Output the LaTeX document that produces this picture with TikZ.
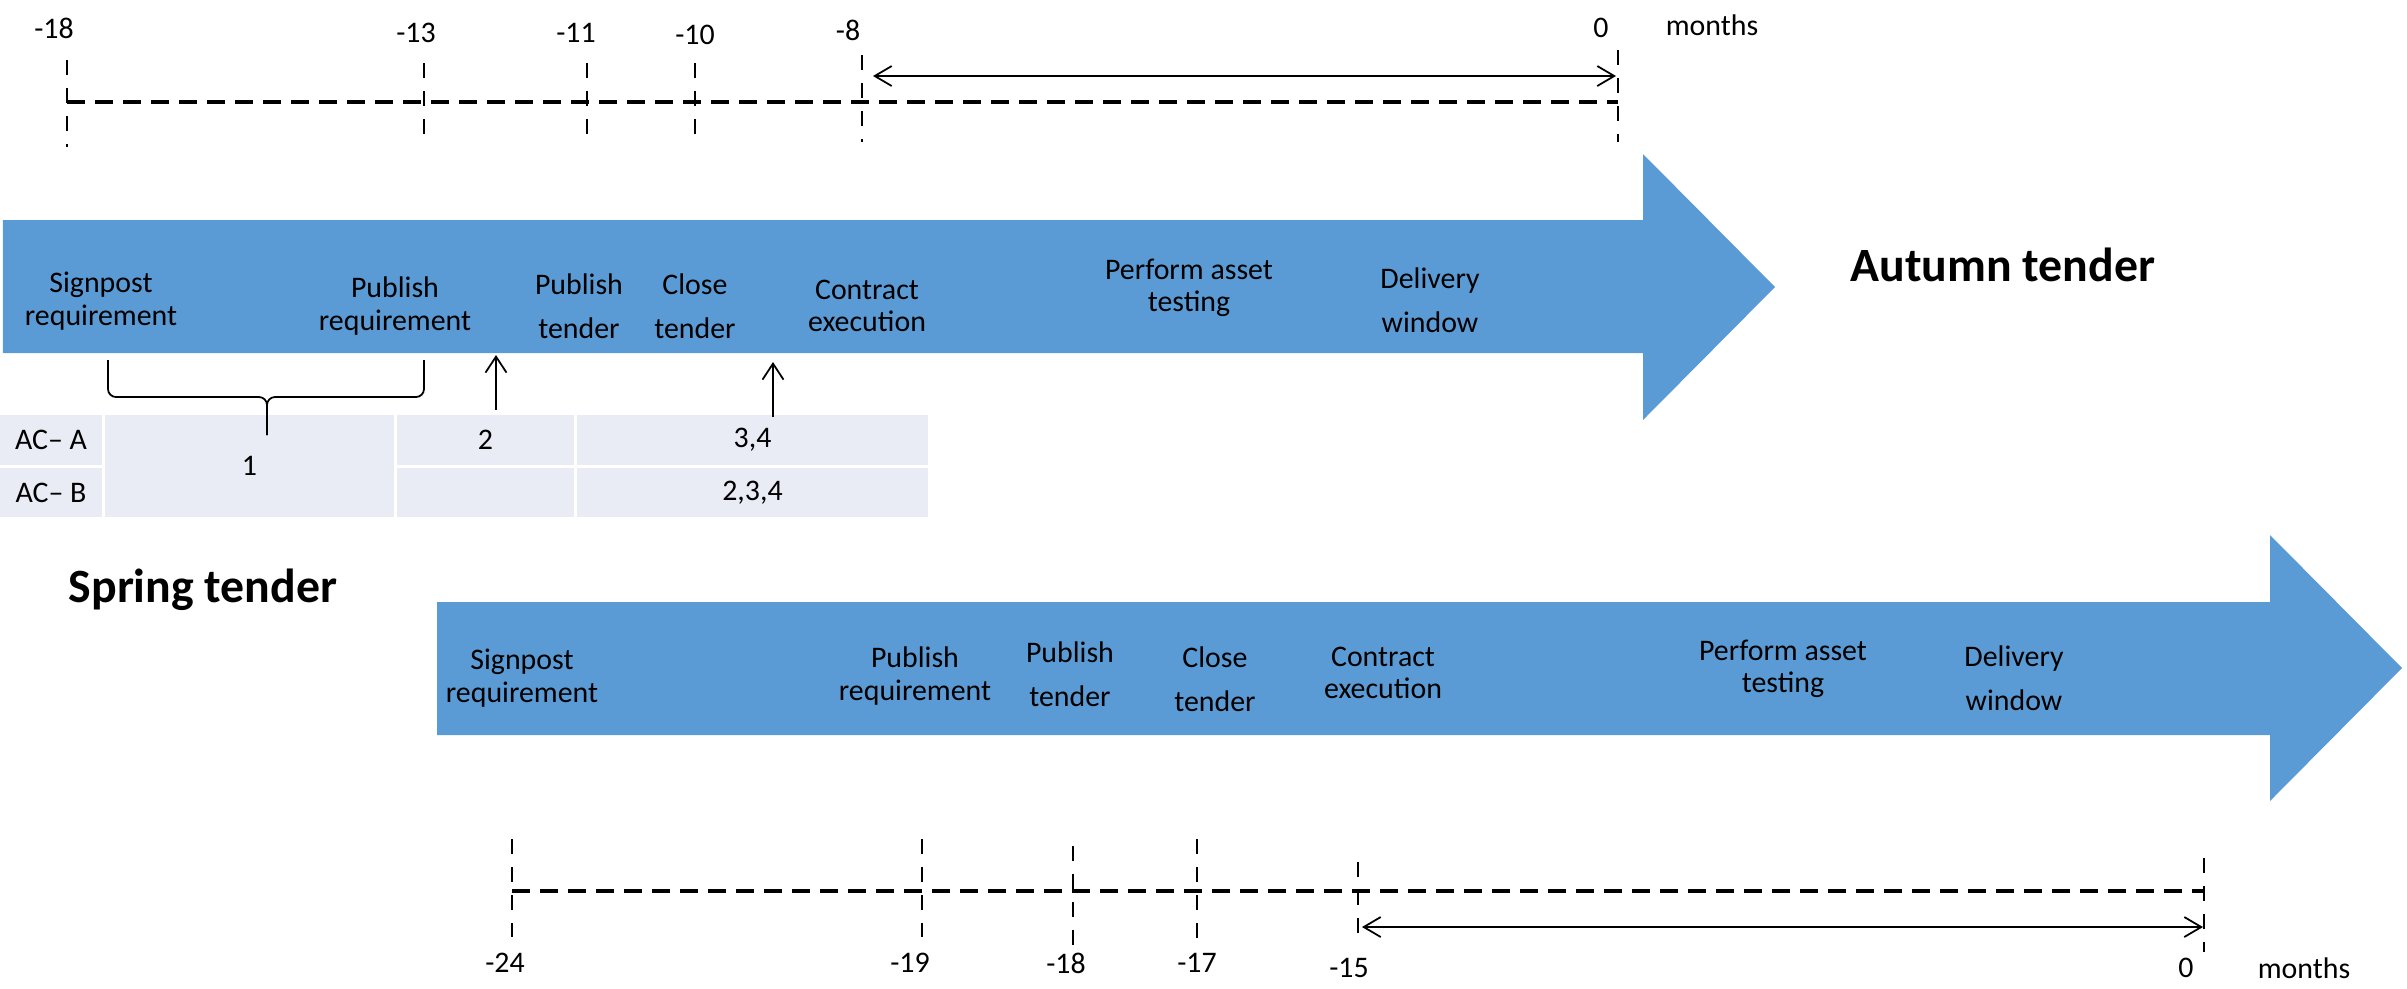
\documentclass[tikz,border=0pt]{standalone}
\usepackage{fontspec}
\setmainfont{Carlito}
\usetikzlibrary{arrows.meta}
\definecolor{arrowblue}{HTML}{5B9BD5}
\definecolor{cellfill}{HTML}{E9EBF5}

\begin{document}
\begin{tikzpicture}[x=0.1mm,y=-0.1mm,
  every node/.style={font=\fontsize{8.5}{9.2}\selectfont, inner sep=0pt},
  steplbl/.style={align=center},
  widelbl/.style={align=center, font=\fontsize{8.5}{12.6}\selectfont},
  tendertitle/.style={font=\fontsize{13.6}{16}\selectfont\bfseries},
  axisline/.style={line width=0.33mm, dash pattern=on 1.8mm off 1mm},
  tickline/.style={line width=0.25mm, dash pattern=on 1.5mm off 1.3mm},
  spanarrow/.style={line width=0.5pt, {Straight Barb[length=1.7mm,width=2mm]}-{Straight Barb[length=1.7mm,width=2mm]}},
  markarrow/.style={line width=0.5pt, -{Straight Barb[length=1.6mm,width=2.1mm]}},
  tblcell/.style={fill=cellfill, minimum height=5mm}
]
\useasboundingbox (0,0) rectangle (2407,988);

% autumn time line
\foreach \x/\lx/\m/\ya/\yb/\ly [count=\i] in {67/54/-18/60/147/28, 424/416/-13/63/137/33, 587/576/-11/63/135/33, 695/695/-10/63/135/35, 862/848/-8/55/142/30, 1618/1601/0/50/142/28}
{
\draw[tickline] (\x,\ya) -- (\x,\yb);
\node (au\i) at (\lx,\ly) {\m};
}
\draw[axisline] (67,102) -- (1618,102);
\node (auMonths) at (1712,25) {months};
\coordinate (auFrom) at (873,76);
\coordinate (auTo) at (1616,76);
\draw[spanarrow] (auFrom) -- (auTo);

% autumn arrow
\fill[arrowblue] (3,220) -- (1643,220) -- (1643,154) -- (1775,287) -- (1643,420) -- (1643,353) -- (3,353) -- cycle;
\node[steplbl] (auSign) at (101,301) {Signpost\\requirement};
\node[steplbl] (auPubReq) at (395,306) {Publish\\requirement};
\node[widelbl] (auPubTen) at (579,306) {Publish\\tender};
\node[widelbl] (auClose) at (695,306) {Close\\tender};
\node[steplbl] (auContract) at (867,306) {Contract\\execution};
\node[steplbl] (auPerform) at (1189,288) {Perform asset\\testing};
\node[widelbl] (auDelivery) at (1430,300) {Delivery\\window};
\node[tendertitle] (autumn) at (2003,265) {Autumn tender};

% table
\node[tblcell, minimum width=10.2mm] (acA) at (51,440) {AC– A};
\node[tblcell, minimum width=10.2mm, minimum height=4.9mm] (acB) at (51,492.5) {AC– B};
\node[tblcell, minimum width=28.9mm, minimum height=10.2mm] (cOne) at (249.5,466) {1};
\node[tblcell, minimum width=17.7mm] (cTwoA) at (485.5,440) {2};
\node[tblcell, minimum width=17.7mm, minimum height=4.9mm] (cTwoB) at (485.5,492.5) {};
\node[tblcell, minimum width=35.1mm] (cThreeA) at (752.5,440) {3,4};
\node[tblcell, minimum width=35.1mm, minimum height=4.9mm] (cThreeB) at (752.5,492.5) {2,3,4};

% brace and arrows up
\draw[line width=0.5pt, rounded corners=0.8mm] (108,360) -- (108,397) -- (267,397) -- (267,435);
\draw[line width=0.5pt, rounded corners=0.8mm] (424,360) -- (424,397) -- (267,397) -- (267,435);
\coordinate (upA) at (496,410);
\coordinate (upAtip) at (496,355);
\coordinate (upB) at (773,417);
\coordinate (upBtip) at (773,362);
\draw[markarrow] (upA) -- (upAtip);
\draw[markarrow] (upB) -- (upBtip);

% spring arrow
\node[tendertitle] (spring) at (203,590) {Spring tender};
\fill[arrowblue] (437,602) -- (2270,602) -- (2270,535) -- (2402,668) -- (2270,801) -- (2270,735) -- (437,735) -- cycle;
\node[steplbl] (spSign) at (522,678) {Signpost\\requirement};
\node[steplbl] (spPubReq) at (915,676) {Publish\\requirement};
\node[widelbl] (spPubTen) at (1070,674) {Publish\\tender};
\node[widelbl] (spClose) at (1215,679) {Close\\tender};
\node[steplbl] (spContract) at (1383,673) {Contract\\execution};
\node[steplbl] (spPerform) at (1783,669) {Perform asset\\testing};
\node[widelbl] (spDelivery) at (2014,678) {Delivery\\window};

% spring time line
\foreach \x/\lx/\m/\ya/\yb/\ly [count=\i] in {512/505/-24/839/937/963, 922/910/-19/839/937/963, 1073/1066/-18/846/945/963, 1197/1197/-17/839/938/963, 1358/1349/-15/862/935/968, 2204/2186/0/858/952/968}
{
\draw[tickline] (\x,\ya) -- (\x,\yb);
\node (sp\i) at (\lx,\ly) {\m};
}
\draw[axisline] (512,891) -- (2204,891);
\node (spMonths) at (2304,968) {months};
\coordinate (spFrom) at (1362,927);
\coordinate (spTo) at (2203,927);
\draw[spanarrow] (spFrom) -- (spTo);
\end{tikzpicture}
\end{document}
